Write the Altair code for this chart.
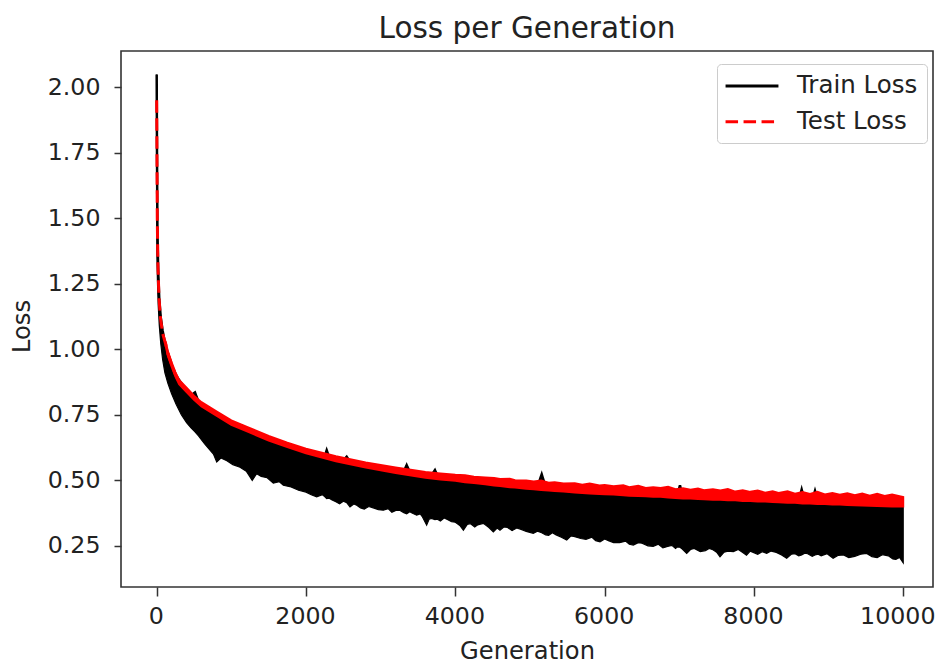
import altair as alt
import pandas as pd

# ---------------- data ----------------
# Train loss: dense noisy trace, summarised by its upper / lower envelope
train_gen = [0, 4, 10, 20, 35, 55, 80, 110, 150, 200, 260, 330, 400, 460, 513, 560,
             640, 714, 760, 804, 860, 940, 1020, 1116, 1200, 1280, 1339, 1400, 1480,
             1562, 1640, 1696, 1800, 1900,
             2000, 2070, 2143, 2220, 2250, 2277, 2310, 2350, 2400, 2450, 2500, 2545,
             2589, 2640, 2680, 2730, 2780, 2840, 2900, 2970, 3036, 3100, 3150, 3210,
             3260, 3310, 3348, 3390, 3420, 3482, 3530, 3560, 3616, 3650, 3680, 3727,
             3760, 3800, 3850, 3900, 3950,
             4000, 4060, 4108, 4160, 4200, 4260, 4300, 4375, 4450, 4509, 4560, 4598,
             4650, 4700, 4760, 4822, 4890, 4950, 5044, 5100, 5157, 5210, 5250, 5300,
             5350, 5420, 5492, 5550, 5600, 5680, 5750, 5830, 5880, 5938, 6000, 6050,
             6120, 6200, 6280, 6330, 6384, 6450, 6500, 6580, 6650, 6720, 6780, 6831,
             6900, 6950, 6975, 7009, 7040, 7099, 7150, 7200, 7280, 7350, 7400, 7450,
             7500, 7545, 7600, 7650, 7724, 7790, 7850, 7900, 7950, 8050, 8110, 8170,
             8230, 8300, 8370, 8438, 8500, 8550, 8600, 8639, 8680, 8720, 8780, 8818,
             8860, 8900, 8980, 9060, 9130, 9200, 9270, 9350, 9430, 9510, 9580, 9650,
             9720, 9800, 9860, 9900, 9950, 9999]
train_hi = [2.048, 1.75, 1.45, 1.30, 1.19, 1.12, 1.07, 1.025, 0.985, 0.94, 0.90, 0.87,
            0.845, 0.825, 0.835, 0.80, 0.785, 0.77, 0.76, 0.755, 0.745, 0.735, 0.72,
            0.705, 0.695, 0.685, 0.679, 0.672, 0.662, 0.652, 0.645, 0.64, 0.63, 0.62,
            0.610, 0.605, 0.600, 0.592, 0.590, 0.615, 0.588, 0.585, 0.581, 0.578,
            0.575, 0.590, 0.570, 0.568, 0.565, 0.562, 0.560, 0.557, 0.553, 0.550,
            0.545, 0.543, 0.540, 0.538, 0.535, 0.534, 0.558, 0.532, 0.530, 0.528,
            0.526, 0.525, 0.522, 0.521, 0.520, 0.539, 0.518, 0.516, 0.515, 0.513,
            0.511,
            0.508, 0.506, 0.504, 0.503, 0.500, 0.499, 0.497, 0.495, 0.492, 0.490,
            0.489, 0.488, 0.487, 0.485, 0.484, 0.482, 0.480, 0.479, 0.477, 0.476,
            0.523, 0.474, 0.473, 0.472, 0.470, 0.469, 0.467, 0.466, 0.464, 0.463,
            0.461, 0.460, 0.459, 0.458, 0.457, 0.456, 0.455, 0.454, 0.453, 0.453,
            0.452, 0.451, 0.450, 0.449, 0.448, 0.447, 0.447, 0.446, 0.445, 0.444,
            0.444, 0.481, 0.443, 0.442, 0.441, 0.440, 0.439, 0.438, 0.438, 0.437,
            0.436, 0.436, 0.435, 0.434, 0.433, 0.432, 0.431, 0.431, 0.430, 0.429,
            0.428, 0.427, 0.426, 0.426, 0.425, 0.424, 0.423, 0.423, 0.422, 0.465,
            0.421, 0.421, 0.420, 0.460, 0.419, 0.419, 0.418, 0.417, 0.416, 0.416,
            0.415, 0.414, 0.413, 0.412, 0.412, 0.411, 0.411, 0.410, 0.410, 0.410,
            0.410, 0.410]
train_lo = [1.60, 1.36, 1.26, 1.17, 1.09, 1.02, 0.96, 0.91, 0.87, 0.83, 0.79, 0.75,
            0.72, 0.70, 0.685, 0.67, 0.64, 0.615, 0.60, 0.57, 0.585, 0.575, 0.56, 0.55,
            0.535, 0.50, 0.525, 0.515, 0.51, 0.489, 0.495, 0.481, 0.475, 0.462,
            0.455, 0.445, 0.437, 0.445, 0.438, 0.430, 0.432, 0.425, 0.418, 0.410,
            0.420, 0.415, 0.399, 0.410, 0.405, 0.395, 0.390, 0.400, 0.395, 0.388,
            0.386, 0.392, 0.378, 0.386, 0.385, 0.376, 0.372, 0.380, 0.375, 0.367,
            0.372, 0.360, 0.329, 0.352, 0.355, 0.350, 0.352, 0.345, 0.356, 0.350,
            0.342,
            0.340, 0.328, 0.310, 0.332, 0.335, 0.322, 0.330, 0.336, 0.320, 0.303,
            0.318, 0.310, 0.322, 0.320, 0.308, 0.318, 0.312, 0.305, 0.298, 0.306,
            0.300, 0.292, 0.290, 0.300, 0.292, 0.283, 0.272, 0.288, 0.285, 0.278,
            0.275, 0.283, 0.270, 0.265, 0.276, 0.270, 0.262, 0.262, 0.268, 0.256,
            0.253, 0.262, 0.260, 0.250, 0.248, 0.256, 0.242, 0.247, 0.252, 0.240,
            0.246, 0.245, 0.238, 0.221, 0.236, 0.240, 0.228, 0.232, 0.240, 0.235,
            0.226, 0.208, 0.226, 0.230, 0.228, 0.236, 0.225, 0.214, 0.230, 0.218,
            0.228, 0.221, 0.230, 0.225, 0.215, 0.203, 0.218, 0.220, 0.212, 0.215,
            0.222, 0.220, 0.210, 0.215, 0.218, 0.212, 0.220, 0.203, 0.214, 0.215,
            0.205, 0.210, 0.218, 0.221, 0.209, 0.205, 0.216, 0.212, 0.200, 0.198,
            0.206, 0.185]

# Test loss: centre of the dashed red line
test_gen = [0, 8, 16, 30, 50, 80, 120, 150, 200, 250, 300, 400, 500, 600, 800, 1000,
            1250, 1500, 1750, 2000, 2400, 2800, 3200, 3600, 4000, 4400, 4800, 5200,
            5600, 6000, 6400, 6800, 7200, 7600, 8000, 8400, 8800, 9200, 9600, 9999]
test_loss = [1.95, 1.50, 1.33, 1.20, 1.12, 1.06, 1.02, 0.983, 0.942, 0.905, 0.875,
             0.845, 0.815, 0.79, 0.755, 0.72, 0.69, 0.66, 0.635, 0.612, 0.582, 0.558,
             0.538, 0.521, 0.510, 0.498, 0.488, 0.480, 0.472, 0.465, 0.459, 0.453,
             0.448, 0.444, 0.440, 0.435, 0.431, 0.427, 0.423, 0.418]

# Test loss: spread of its noise (upper / lower edge of the red band)
band_gen = [120, 150, 200, 250, 300, 400, 500, 600, 800, 1000, 1250, 1500, 1750, 2000,
            2400, 2800, 3200, 3600, 3800, 4000, 4130, 4250, 4400, 4520, 4600, 4730,
            4800, 4950, 5050, 5150, 5250, 5330, 5450, 5600, 5700, 5800, 5930, 6000,
            6120, 6250, 6330, 6450, 6550, 6650, 6750, 6850, 6950, 7050, 7150, 7250,
            7330, 7450, 7550, 7650, 7750, 7850, 7950, 8050, 8150, 8250, 8330, 8450,
            8550, 8650, 8750, 8850, 8950, 9050, 9150, 9250, 9350, 9450, 9550, 9650,
            9750, 9850, 9999]
band_hi = [1.030, 0.992, 0.950, 0.913, 0.883, 0.853, 0.823, 0.798, 0.763, 0.729,
           0.699, 0.669, 0.644, 0.621, 0.592, 0.568, 0.549, 0.532, 0.526, 0.521,
           0.519, 0.514, 0.511, 0.509, 0.505, 0.506, 0.500, 0.499, 0.496, 0.499,
           0.491, 0.493, 0.488, 0.489, 0.483, 0.488, 0.480, 0.482, 0.477, 0.481,
           0.474, 0.479, 0.471, 0.474, 0.471, 0.475, 0.466, 0.470, 0.464, 0.469,
           0.462, 0.466, 0.461, 0.467, 0.457, 0.462, 0.456, 0.461, 0.453, 0.458,
           0.452, 0.458, 0.449, 0.455, 0.448, 0.456, 0.446, 0.452, 0.445, 0.451,
           0.443, 0.450, 0.441, 0.449, 0.440, 0.446, 0.436]
band_lo = [1.012, 0.975, 0.934, 0.897, 0.867, 0.837, 0.807, 0.782, 0.747, 0.712,
           0.682, 0.652, 0.627, 0.603, 0.573, 0.549, 0.528, 0.510, 0.503, 0.498,
           0.493, 0.490, 0.485, 0.480, 0.478, 0.474, 0.473, 0.468, 0.466, 0.463,
           0.461, 0.459, 0.457, 0.454, 0.452, 0.450, 0.448, 0.447, 0.446, 0.443,
           0.441, 0.440, 0.439, 0.437, 0.437, 0.434, 0.433, 0.431, 0.431, 0.429,
           0.428, 0.426, 0.426, 0.424, 0.424, 0.421, 0.421, 0.419, 0.419, 0.417,
           0.416, 0.414, 0.414, 0.412, 0.412, 0.410, 0.410, 0.408, 0.408, 0.406,
           0.405, 0.404, 0.403, 0.402, 0.401, 0.400, 0.400]

series_names = ["Train Loss", "Test Loss"]
series_colors = ["black", "red"]
series_dashes = [[1, 0], [12.5, 5.5]]
x_ticks = [0, 2000, 4000, 6000, 8000, 10000]
y_ticks = [0.25, 0.50, 0.75, 1.00, 1.25, 1.50, 1.75, 2.00]

# ---------------- tables ----------------
train_df = pd.DataFrame({"gen": train_gen, "hi": train_hi, "lo": train_lo,
                         "series": series_names[0]})
test_df = pd.DataFrame({"gen": test_gen, "loss": test_loss, "series": series_names[1]})
band_df = pd.DataFrame({"gen": band_gen, "hi": band_hi, "lo": band_lo})

FONT = "DejaVu Sans"
TXT = "#222222"

xscale = alt.Scale(domain=[-478, 10398], nice=False, zero=False)
yscale = alt.Scale(domain=[0.093, 2.138], nice=False, zero=False)

x_enc = alt.X("gen:Q", scale=xscale, title="Generation",
              axis=alt.Axis(values=x_ticks, format="d", tickSize=9, labelPadding=8,
                            titlePadding=12,
                            labelOffset={"condition": {"test": "datum.value == 10000",
                                                       "value": -6},
                                         "value": -1}))
y_axis = alt.Axis(values=y_ticks, format=".2f", tickSize=7, labelPadding=14,
                  titlePadding=13, titleY=275)

legend = alt.Legend(title=None, orient="none", legendX=596, legendY=13,
                    symbolType="M-2.3,0H2.3", symbolSize=529, symbolStrokeWidth=3,
                    symbolOffset=13,
                    labelFontSize=24.5, labelFont=FONT, labelColor=TXT,
                    labelOffset=32, padding=9, rowPadding=10.7,
                    fillColor="rgba(255,255,255,0.8)", strokeColor="#cccccc",
                    cornerRadius=4)
color_enc = alt.Color("series:N", scale=alt.Scale(domain=series_names, range=series_colors),
                      legend=legend)
dash_enc = alt.StrokeDash("series:N",
                          scale=alt.Scale(domain=series_names, range=series_dashes),
                          legend=legend)

train_band = alt.Chart(train_df).mark_area(
    color="black", stroke="black", strokeWidth=1.2, opacity=1, clip=True
).encode(x=x_enc, y=alt.Y("lo:Q", scale=yscale, title="Loss", axis=y_axis), y2="hi:Q")

train_line = alt.Chart(train_df).mark_line(strokeWidth=2.5, clip=True).encode(
    x=x_enc, y=alt.Y("hi:Q", scale=yscale, title="Loss"),
    color=color_enc, strokeDash=dash_enc)

test_band = alt.Chart(band_df).mark_area(
    color="red", stroke="red", strokeWidth=2, opacity=1, clip=True
).encode(x=x_enc, y=alt.Y("lo:Q", scale=yscale, title="Loss"), y2="hi:Q")

test_line = alt.Chart(test_df).mark_line(strokeWidth=3, clip=True).encode(
    x=x_enc, y=alt.Y("loss:Q", scale=yscale, title="Loss"),
    color=color_enc, strokeDash=dash_enc)

chart = alt.layer(train_band, train_line, test_band, test_line).properties(
    width=812, height=536,
    title=alt.TitleParams("Loss per Generation", fontSize=29.5, font=FONT,
                          fontWeight="normal", color=TXT, anchor="middle", offset=7),
    autosize=alt.AutoSizeParams(type="none"),
    padding={"left": 113, "top": 43, "right": 2, "bottom": 77},
).configure_axis(
    grid=False, domain=False, labelFont=FONT, titleFont=FONT, labelFontSize=23.7,
    titleFontSize=24.2, labelColor=TXT, titleColor=TXT, titleFontWeight="normal",
    tickColor="#333333", tickWidth=1.5,
).configure_view(stroke="#333333", strokeWidth=1.6)

chart.save("out.html", embed_options={"renderer": "svg", "actions": False})
